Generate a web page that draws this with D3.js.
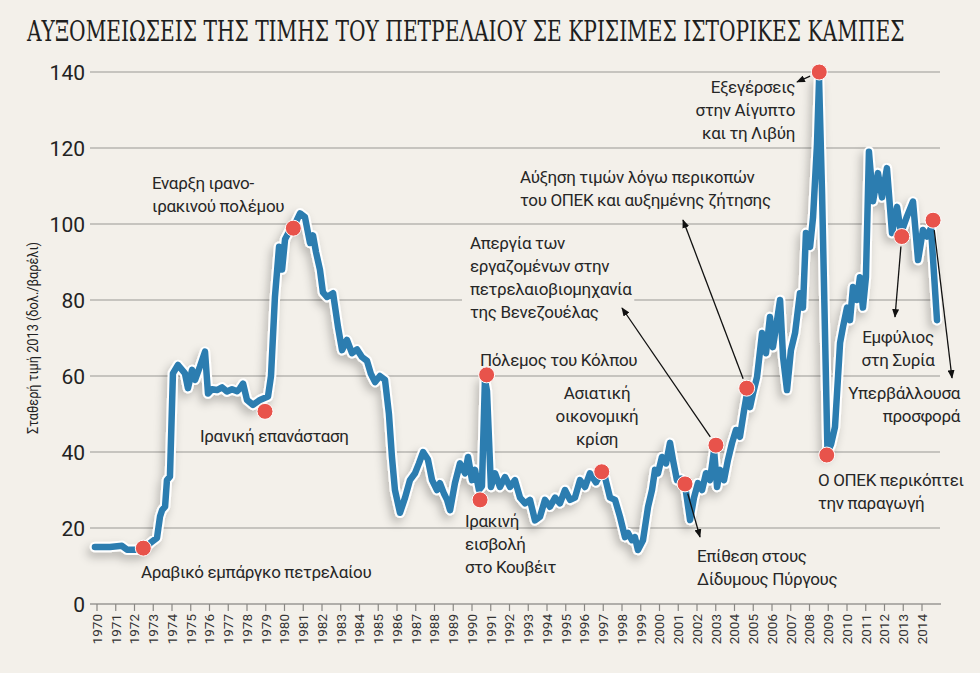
<!DOCTYPE html>
<html>
<head>
<meta charset="utf-8">
<script src="https://cdn.jsdelivr.net/npm/d3@7"></script>
<style>
  body { margin: 0; background: #f3f0ea; }
  svg { display: block; }
  text { font-family: Roboto, "Noto Sans", sans-serif; }
</style>
</head>
<body>
<svg id="chart" width="980" height="673"></svg>
<script>
// price of oil, constant 2013 dollars per barrel
const dates = [
  1969.89, 1970.69, 1971.33, 1971.6, 1972.29, 1972.51, 1972.83, 1973.2, 1973.36, 1973.47,
  1973.63, 1973.73, 1973.89, 1974.05, 1974.32, 1974.69, 1974.85, 1975.07, 1975.23, 1975.49,
  1975.76, 1975.92, 1976.13, 1976.4, 1976.67, 1976.93, 1977.2, 1977.47, 1977.63, 1977.79,
  1978.0, 1978.32, 1978.69, 1979.12, 1979.28, 1979.49, 1979.71, 1979.87, 1980.03, 1980.29,
  1980.56, 1980.83, 1981.09, 1981.36, 1981.52, 1981.68, 1981.89, 1982.05, 1982.27, 1982.59,
  1982.85, 1983.07, 1983.33, 1983.6, 1983.87, 1984.13, 1984.4, 1984.61, 1984.83, 1985.09,
  1985.36, 1985.57, 1985.73, 1985.89, 1986.16, 1986.43, 1986.69, 1986.96, 1987.17, 1987.39,
  1987.65, 1987.87, 1988.13, 1988.29, 1988.51, 1988.67, 1988.83, 1989.09, 1989.36, 1989.63,
  1989.79, 1990.0, 1990.16, 1990.37, 1990.53, 1990.69, 1990.8, 1991.01, 1991.23, 1991.49,
  1991.76, 1992.03, 1992.29, 1992.56, 1992.83, 1993.09, 1993.36, 1993.63, 1993.89, 1994.16,
  1994.43, 1994.69, 1994.96, 1995.23, 1995.49, 1995.76, 1996.03, 1996.29, 1996.61, 1996.88,
  1997.09, 1997.36, 1997.63, 1997.89, 1998.16, 1998.32, 1998.53, 1998.69, 1998.85, 1999.12,
  1999.39, 1999.6, 1999.76, 1999.92, 2000.13, 2000.35, 2000.56, 2000.72, 2000.93, 2001.15,
  2001.36, 2001.63, 2001.84, 2002.05, 2002.27, 2002.48, 2002.69, 2002.91, 2003.07, 2003.23,
  2003.44, 2003.65, 2003.87, 2004.08, 2004.29, 2004.51, 2004.67, 2004.83, 2004.99, 2005.2,
  2005.47, 2005.68, 2005.89, 2006.05, 2006.27, 2006.43, 2006.59, 2006.8, 2007.01, 2007.23,
  2007.49, 2007.65, 2007.81, 2008.03, 2008.19, 2008.4, 2008.51, 2008.67, 2008.96, 2009.15,
  2009.36, 2009.63, 2009.79, 2010.0, 2010.16, 2010.32, 2010.53, 2010.69, 2010.85, 2011.01,
  2011.17, 2011.39, 2011.65, 2011.87, 2012.13, 2012.4, 2012.67, 2012.88, 2013.2, 2013.52,
  2013.79, 2014.05, 2014.27, 2014.48, 2014.8
];
const prices = [
  15, 15, 15.3, 14.3, 14.3, 14.6, 16, 17.4, 23, 24.7,
  25.6, 32.6, 33.5, 60.7, 62.9, 60.7, 56.8, 61.6, 59, 62.5,
  66.4, 55.4, 56.5, 56.3, 57, 55.9, 56.5, 56, 56.8, 58,
  53.7, 52.4, 53.7, 54.6, 60, 80.8, 94, 88, 96, 98.4,
  100, 102.8, 101.8, 95, 97, 92.6, 88, 82, 80.8, 81.8,
  73, 66.8, 69.5, 66, 67, 65, 64, 60.5, 58.4, 60,
  59, 50, 38.7, 30, 24, 28, 32.6, 34.4, 37, 40,
  38, 32.6, 30, 31.8, 29, 27.4, 24.7, 31.8, 37, 34.4,
  38.7, 32.6, 35.3, 30, 31, 59, 56, 30.8, 34.4, 30.8,
  33.4, 30.8, 32.6, 28, 26.5, 27.4, 22, 23, 27.4, 25.6,
  28, 26.5, 30, 27.4, 28, 32.6, 30.8, 34.4, 32, 34.5,
  33.4, 28, 27.4, 23, 17.6, 18.7, 16.8, 17.6, 14.2, 16.8,
  25.6, 30, 35.3, 34.4, 38.7, 37, 42.4, 37.9, 32.6, 33,
  31.3, 22.1, 28, 31.8, 30, 34.4, 32.6, 40.5, 30.8, 35.3,
  32.6, 37.9, 42.4, 45.8, 44, 51, 55.5, 51.8, 55.5, 59.7,
  71.3, 66, 75.5, 67.6, 74.7, 80, 65, 56.3, 66.8, 71.3,
  81.8, 78, 97.6, 94, 101.8, 121, 138, 108, 40, 42,
  46.6, 68.7, 73, 78, 74.7, 83.4, 80, 86, 78, 86,
  119, 106, 113.4, 107, 114.7, 97.6, 104.5, 97.6, 102, 105.9,
  90.5, 98.4, 96.7, 99, 74.7
];

const yTicks = [0, 20, 40, 60, 80, 100, 120, 140];
const yearTicks = d3.range(1970, 2015);

const title = "ΑΥΞΟΜΕΙΩΣΕΙΣ ΤΗΣ ΤΙΜΗΣ ΤΟΥ ΠΕΤΡΕΛΑΙΟΥ ΣΕ ΚΡΙΣΙΜΕΣ ΙΣΤΟΡΙΚΕΣ ΚΑΜΠΕΣ";
const yTitle = "Σταθερή τιμή 2013 (δολ./βαρέλι)";

// marked events: date, price and label lines
const eventDates = [1972.47, 1978.96, 1980.47, 1990.43, 1990.78, 1996.92, 2001.36,
                    2003.01, 2004.65, 2008.52, 2008.92, 2012.92, 2014.59];
const eventPrices = [14.7, 50.7, 98.9, 27.4, 60.3, 34.8, 31.6, 41.8, 56.8, 140, 39.2, 96.7, 101];
const eventLabels = [
  ["Αραβικό εμπάργκο πετρελαίου"],
  ["Ιρανική επανάσταση"],
  ["Εναρξη ιρανο-", "ιρακινού πολέμου"],
  ["Ιρακινή", "εισβολή", "στο Κουβέιτ"],
  ["Πόλεμος του Κόλπου"],
  ["Ασιατική", "οικονομική", "κρίση"],
  ["Επίθεση στους", "Δίδυμους Πύργους"],
  ["Απεργία των", "εργαζομένων στην", "πετρελαιοβιομηχανία", "της Βενεζουέλας"],
  ["Αύξηση τιμών λόγω περικοπών", "του ΟΠΕΚ και αυξημένης ζήτησης"],
  ["Εξεγέρσεις", "στην Αίγυπτο", "και τη Λιβύη"],
  ["Ο ΟΠΕΚ περικόπτει", "την παραγωγή"],
  ["Εμφύλιος", "στη Συρία"],
  ["Υπερβάλλουσα", "προσφορά"]
];

// where each label sits and where its arrow points (null = no arrow)
const labelLayout = [
  { x: 141, y: 578, anchor: "start", arrow: null },
  { x: 200, y: 442, anchor: "start", arrow: null },
  { x: 152, y: 189, anchor: "start", arrow: null },
  { x: 465, y: 527, anchor: "start", arrow: null },
  { x: 480, y: 366, anchor: "start", arrow: null },
  { x: 597, y: 399, anchor: "middle", arrow: null },
  { x: 697, y: 562, anchor: "start", arrow: [700, 537] },
  { x: 470, y: 249, anchor: "start", arrow: [622, 308], knockout: true },
  { x: 520, y: 183, anchor: "start", arrow: [683, 220] },
  { x: 795, y: 93, anchor: "end", arrow: [797, 82] },
  { x: 818, y: 486, anchor: "start", arrow: null },
  { x: 898, y: 343, anchor: "middle", arrow: [895, 317] },
  { x: 960, y: 399, anchor: "end", arrow: [952, 378] }
];

const bg = "#f3f0ea";
const lineBlue = "#2c7db0";
const dotRed = "#e8534b";
const lineGap = 23;

const svg = d3.select("#chart");

const x = d3.scaleLinear().domain([1970, 2014]).range([97, 922]);
const y = d3.scaleLinear().domain([0, 140]).range([604, 72]);

const defs = svg.append("defs");
const shadow = defs.append("filter").attr("id", "shadow")
  .attr("x", "-10%").attr("y", "-10%").attr("width", "120%").attr("height", "130%");
shadow.append("feDropShadow")
  .attr("dx", -3).attr("dy", 5).attr("stdDeviation", 5)
  .attr("flood-color", "#000").attr("flood-opacity", 0.24);

defs.append("marker").attr("id", "arrowhead")
  .attr("viewBox", "0 0 10 8").attr("refX", 9).attr("refY", 4)
  .attr("markerWidth", 9).attr("markerHeight", 7)
  .attr("markerUnits", "userSpaceOnUse").attr("orient", "auto")
  .append("path").attr("d", "M0,0L10,4L0,8Z").attr("fill", "#111");

svg.append("rect").attr("width", 980).attr("height", 673).attr("fill", bg);

// title, squeezed horizontally to fit like the condensed original
const titleText = svg.append("text")
  .style("font-family", "'DejaVu Serif Condensed', 'DejaVu Serif', serif")
  .style("font-stretch", "condensed")
  .attr("font-size", 27).attr("fill", "#1e1e1e")
  .text(title);
const titleW = titleText.node().getComputedTextLength();
titleText.attr("transform", `translate(27,41) scale(${878 / titleW},1)`);

// grid lines
svg.append("g").selectAll("line")
  .data(yTicks.filter(d => d > 0))
  .join("line")
  .attr("x1", 90).attr("x2", 940)
  .attr("y1", d => y(d)).attr("y2", d => y(d))
  .attr("stroke", "#9a9894").attr("stroke-width", 1.2);

// y tick labels
svg.append("g").selectAll("text")
  .data(yTicks)
  .join("text")
  .attr("x", 85).attr("y", d => y(d))
  .attr("dy", "0.36em")
  .attr("text-anchor", "end")
  .attr("font-size", 21).attr("fill", "#222")
  .text(d => d);

// x axis
const xAxis = svg.append("g");
xAxis.append("line")
  .attr("x1", 90).attr("x2", 941).attr("y1", y(0)).attr("y2", y(0))
  .attr("stroke", "#9a9894").attr("stroke-width", 1.5);
xAxis.selectAll(".tick")
  .data(yearTicks)
  .join("line")
  .attr("x1", d => x(d)).attr("x2", d => x(d))
  .attr("y1", y(0)).attr("y2", y(0) + 7)
  .attr("stroke", "#8a8884").attr("stroke-width", 1.2);
xAxis.selectAll(".yl")
  .data(yearTicks)
  .join("text")
  .attr("transform", d => `translate(${x(d)},${y(0) + 10}) rotate(-90)`)
  .attr("dy", "0.36em")
  .attr("text-anchor", "end")
  .attr("font-size", 13.5).attr("fill", "#333")
  .text(d => d);

// y title
svg.append("text")
  .attr("transform", "translate(33,338) rotate(-90)")
  .attr("dy", "0.35em")
  .attr("text-anchor", "middle")
  .attr("font-size", 14.5).attr("fill", "#222")
  .attr("textLength", 192).attr("lengthAdjust", "spacingAndGlyphs")
  .text(yTitle);

// labels
const labels = svg.append("g");
eventLabels.forEach((lines, i) => {
  const L = labelLayout[i];
  const g = labels.append("g");
  const t = g.append("text")
    .attr("x", L.x).attr("y", L.y)
    .attr("text-anchor", L.anchor)
    .attr("font-size", 17).attr("fill", "#262626")
    .attr("letter-spacing", -0.35);
  t.selectAll("tspan").data(lines).join("tspan")
    .attr("x", L.x).attr("y", (d, k) => L.y + k * lineGap)
    .text(d => d);
  if (L.knockout) {
    const b = t.node().getBBox();
    g.insert("rect", "text")
      .attr("x", b.x - 8).attr("y", b.y - 2)
      .attr("width", b.width + 10).attr("height", b.height + 4)
      .attr("fill", bg);
  }
});

// price line
const line = d3.line()
  .x((d, i) => x(dates[i]))
  .y(d => y(d))
  .curve(d3.curveLinear);

svg.append("path")
  .datum(prices)
  .attr("d", line)
  .attr("fill", "none")
  .attr("stroke", "#fff").attr("stroke-width", 10.5)
  .attr("stroke-linejoin", "round").attr("stroke-linecap", "round")
  .attr("filter", "url(#shadow)");

svg.append("path")
  .datum(prices)
  .attr("d", line)
  .attr("fill", "none")
  .attr("stroke", lineBlue).attr("stroke-width", 6.5)
  .attr("stroke-linejoin", "round").attr("stroke-linecap", "round");

// arrows
const arrows = svg.append("g");
labelLayout.forEach((L, i) => {
  if (!L.arrow) return;
  const cx = x(eventDates[i]), cy = y(eventPrices[i]);
  const [tx, ty] = L.arrow;
  const len = Math.hypot(tx - cx, ty - cy);
  const sx = cx + (tx - cx) / len * 10, sy = cy + (ty - cy) / len * 10;
  arrows.append("line")
    .attr("x1", sx).attr("y1", sy).attr("x2", tx).attr("y2", ty)
    .attr("stroke", "#111").attr("stroke-width", 1.3)
    .attr("marker-end", "url(#arrowhead)");
});

// event dots
svg.append("g").selectAll("circle")
  .data(eventDates)
  .join("circle")
  .attr("cx", d => x(d))
  .attr("cy", (d, i) => y(eventPrices[i]))
  .attr("r", 8)
  .attr("fill", dotRed)
  .attr("stroke", "#fff").attr("stroke-width", 1);
</script>
</body>
</html>
